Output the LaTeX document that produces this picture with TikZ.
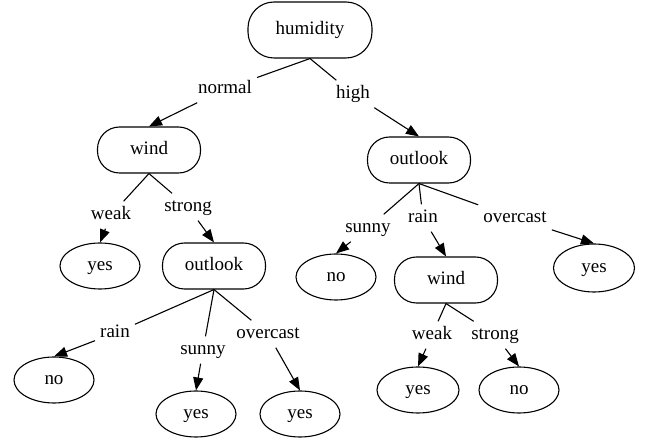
\documentclass[tikz,border=0pt]{standalone}
\usepackage{fontspec}
\setmainfont{Liberation Serif}
\usepackage{tikz}
\usetikzlibrary{arrows.meta, shapes.geometric}
\tikzset{
  box/.style={draw, line width=1.1pt, rounded corners=22pt, minimum width=103pt, minimum height=46pt, inner sep=0pt, text height=13pt, text depth=4pt},
  leaf/.style={draw, ellipse, line width=1.1pt, minimum width=80pt, minimum height=46pt, inner sep=0pt, text height=13pt, text depth=4pt},
  lbl/.style={inner sep=5pt, text height=13pt, text depth=4pt},
  ln/.style={line width=1.1pt},
  arr/.style={-{Triangle[length=13pt, width=10pt]}, line width=1.1pt},
}

\begin{document}
\begin{tikzpicture}[x=1pt, y=-1pt, font=\fontsize{19}{22}\selectfont]
    \useasboundingbox (0,0) rectangle (646,438);
    % decision nodes
    \node[box, minimum width=124pt, minimum height=56pt, rounded corners=26pt] (hum) at (310,30) {humidity};
    \node[box] (windL) at (149,150) {wind};
    \node[box] (outR) at (419,160) {outlook};
    \node[box] (outL) at (214,266) {outlook};
    \node[box] (windR) at (446,280) {wind};
    % leaves
    \node[leaf] (yesA) at (100,266) {yes};
    \node[leaf] (noA) at (336,277) {no};
    \node[leaf, minimum width=81pt, minimum height=48pt] (yesB) at (594,268) {yes};
    \node[leaf] (noB) at (54,380) {no};
    \node[leaf] (yesC) at (196,414) {yes};
    \node[leaf] (yesD) at (300,414) {yes};
    \node[leaf, minimum width=82pt] (yesE) at (418,390) {yes};
    \node[leaf] (noC) at (519,390) {no};
    % edge labels
    \node[lbl] (normal) at (225,89) {normal};
    \node[lbl] (high) at (353,94) {high};
    \node[lbl] (weakL) at (111,215) {weak};
    \node[lbl] (strongL) at (188,207) {strong};
    \node[lbl] (sunnyR) at (368,228) {sunny};
    \node[lbl] (rainR) at (423,218) {rain};
    \node[lbl] (overR) at (515,218) {overcast};
    \node[lbl] (rainL) at (115,333) {rain};
    \node[lbl] (sunnyL) at (203,350) {sunny};
    \node[lbl] (overL) at (268,334) {overcast};
    \node[lbl] (weakR) at (432,335) {weak};
    \node[lbl] (strongR) at (495,335) {strong};
    % edges
    \draw[ln] (hum.south) -- (normal);
    \draw[arr] (normal) -- (windL.north);
    \draw[ln] (hum.south) -- (high);
    \draw[arr] (high) -- (outR.north);
    \draw[ln] (windL.south) -- (weakL);
    \draw[arr] (weakL) -- (yesA.north);
    \draw[ln] (windL.south) -- (strongL);
    \draw[arr] (strongL) -- (outL.north);
    \draw[ln] (outL.south) -- (rainL);
    \draw[arr] (rainL) -- (noB.north);
    \draw[ln] (outL.south) -- (sunnyL);
    \draw[arr] (sunnyL) -- (yesC.north);
    \draw[ln] (outL.south) -- (overL);
    \draw[arr] (overL) -- (yesD.north);
    \draw[ln] (outR.south) -- (sunnyR);
    \draw[arr] (sunnyR) -- (noA.north);
    \draw[ln] (outR.south) -- (rainR);
    \draw[arr] (rainR) -- (windR.north);
    \draw[ln] (outR.south) -- (overR);
    \draw[arr] (overR) -- (yesB.north);
    \draw[ln] (windR.south) -- (weakR);
    \draw[arr] (weakR) -- (yesE.north);
    \draw[ln] (windR.south) -- (strongR);
    \draw[arr] (strongR) -- (noC.north);
\end{tikzpicture}
\end{document}
